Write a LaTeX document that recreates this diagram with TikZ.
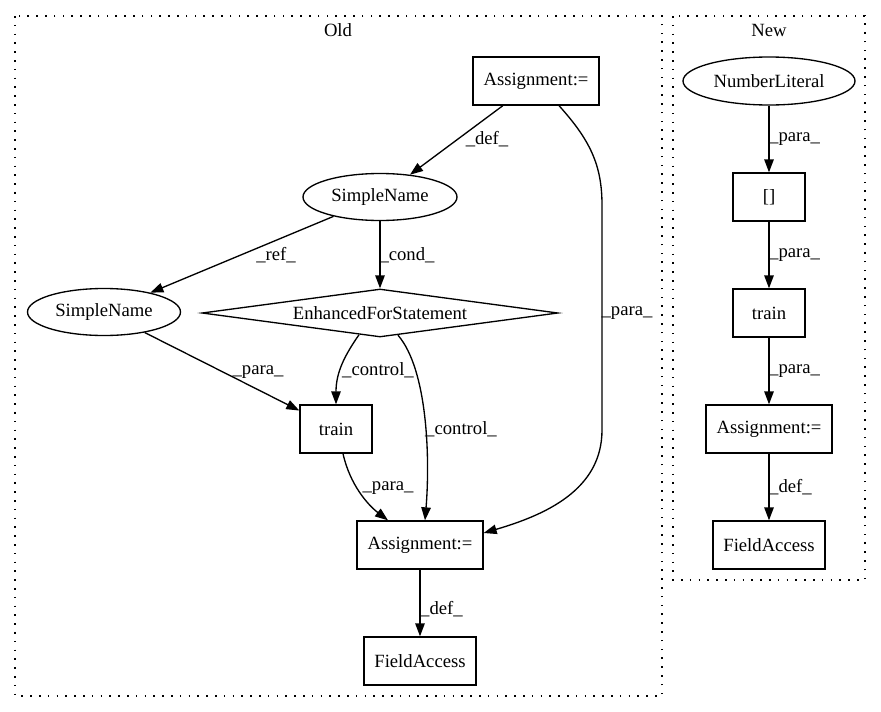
\documentclass[tikz,border=0pt]{standalone}
\usepackage{fontspec}
\setmainfont{Liberation Serif}
\usetikzlibrary{arrows.meta,shapes.geometric,calc}
\tikzset{
  every node/.style={font=\fontsize{18.67}{22}\selectfont},
  box/.style={draw, line width=1.33pt, rectangle, minimum height=48pt, inner sep=0pt},
  oval/.style={draw, line width=1.33pt, ellipse, minimum height=47pt, inner sep=0pt},
  dia/.style={draw, line width=1.33pt, diamond, aspect=7.4, minimum width=356pt, minimum height=48pt, inner sep=0pt},
  edge/.style={line width=1.33pt, -{Triangle[length=13pt,width=9.5pt]}},
  lbl/.style={inner sep=0pt},
  cluster/.style={line width=1.4pt, dash pattern=on 1.6pt off 7.2pt},
}
\begin{document}
\begin{tikzpicture}[x=1pt,y=-1pt]
\useasboundingbox (0,0) rectangle (881,712);
% clusters
\draw[cluster] (15,16) rectangle (662,696);
\draw[cluster] (673,16) rectangle (865,580);
\node[lbl] (oldlbl) at (338,30) {Old};
\node[lbl] (newlbl) at (769,30) {New};
% Old nodes
\node[box, minimum width=126pt] (a1) at (536,81) {Assignment:=};
\node[oval, minimum width=154pt] (sn1) at (380,197) {SimpleName};
\node[oval, minimum width=153pt] (sn2) at (104,312) {SimpleName};
\node[dia] (efs) at (380,313) {EnhancedForStatement};
\node[box, minimum width=72pt] (tr1) at (336,429) {train};
\node[box, minimum width=126pt] (a2) at (420,545) {Assignment:=};
\node[box, minimum width=112pt] (fa1) at (420,661) {FieldAccess};
% New nodes
\node[oval, minimum width=172pt, minimum height=48pt] (nl) at (769,81) {NumberLiteral};
\node[box, minimum width=72pt] (br) at (769,197) {[]};
\node[box, minimum width=72pt] (tr2) at (769,313) {train};
\node[box, minimum width=126pt] (a3) at (769,429) {Assignment:=};
\node[box, minimum width=112pt] (fa2) at (769,545) {FieldAccess};
% Old edges
\draw[edge] (a1) -- (sn1);
\node[lbl] (l1) at (487,139) {\_def\_};
\draw[edge] ($(a1.south)+(23,0)$) .. controls (590,140) and (602,165) .. (602,205)
  -- (602,430) .. controls (602,490) and (545,515) .. ($(a2.east)+(0,-12)$);
\node[lbl] (l2) at (627,313) {\_para\_};
\draw[edge] (sn1) -- (sn2);
\node[lbl] (l3) at (276,255) {\_ref\_};
\draw[edge] (sn1) -- (efs);
\node[lbl] (l4) at (407,255) {\_cond\_};
\draw[edge] (sn2) -- (tr1);
\node[lbl] (l5) at (258,372) {\_para\_};
\draw[edge] (efs.226) .. controls (345,355) and (336,372) .. (tr1.north);
\node[lbl] (l6) at (378,370) {\_control\_};
\draw[edge] (efs.309) .. controls (428,370) and (430,460) .. ($(a2.north)+(5,0)$);
\node[lbl] (l7) at (461,429) {\_control\_};
\draw[edge] ($(tr1.south)+(7,0)$) .. controls (350,485) and (368,505) .. ($(a2.north)+(-32,0)$);
\node[lbl] (l8) at (388,488) {\_para\_};
\draw[edge] (a2) -- (fa1);
\node[lbl, anchor=west] (l9) at (420,609) {\_def\_};
% New edges
\draw[edge] (nl) -- (br);
\node[lbl, anchor=west] (l10) at (769,139) {\_para\_};
\draw[edge] (br) -- (tr2);
\node[lbl, anchor=west] (l11) at (769,255) {\_para\_};
\draw[edge] (tr2) -- (a3);
\node[lbl, anchor=west] (l12) at (769,371) {\_para\_};
\draw[edge] (a3) -- (fa2);
\node[lbl, anchor=west] (l13) at (769,487) {\_def\_};
\end{tikzpicture}
\end{document}
